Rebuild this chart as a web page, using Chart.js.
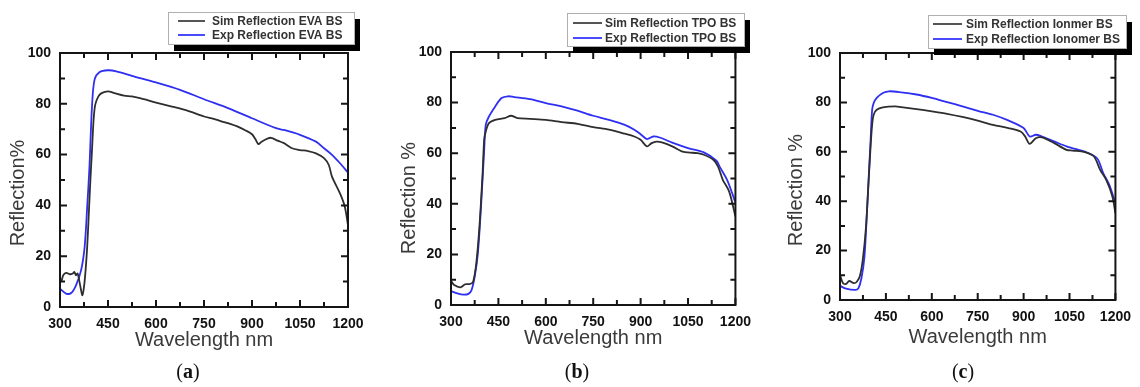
<!DOCTYPE html>
<html>
<head>
<meta charset="utf-8">
<script src="https://cdn.jsdelivr.net/npm/chart.js@4.4.0/dist/chart.umd.min.js"></script>
<style>
  body { margin: 0; background: #fff; width: 1140px; height: 387px; position: relative; overflow: hidden; }
  .panel { position: absolute; top: 0; width: 380px; height: 387px; }
  .tag { position: absolute; top: 360px; font-family: 'Liberation Serif', serif; font-size: 20px; color: #111; transform: translateX(-50%); }
  .tag b { font-weight: bold; }
</style>
</head>
<body>
<div class="panel" style="left:0"><canvas id="chartA"></canvas></div>
<div class="panel" style="left:380px"><canvas id="chartB"></canvas></div>
<div class="panel" style="left:760px"><canvas id="chartC"></canvas></div>
<div class="tag" style="left:188px">(<b>a</b>)</div>
<div class="tag" style="left:577px">(<b>b</b>)</div>
<div class="tag" style="left:963px">(<b>c</b>)</div>
<script>
// Axis ticks
const xTicks = [300, 450, 600, 750, 900, 1050, 1200];
const yTicks = [0, 20, 40, 60, 80, 100];

// (a) EVA backsheet
const evaSimNm = [300, 305, 310, 320, 330, 340, 345, 350, 355, 360, 365, 370, 375, 380, 385, 390, 395, 400, 405, 410, 420, 430, 450, 470, 500, 525, 550, 600, 650, 700, 750, 780, 800, 850, 880, 900, 910, 920, 930, 950, 960, 980, 1000, 1025, 1050, 1075, 1100, 1125, 1140, 1150, 1175, 1190, 1200];
const evaSim = [11.2, 10.5, 12.5, 13.4, 12.9, 13.2, 13.8, 12.5, 13.2, 10.5, 7.2, 4.6, 7.9, 14.5, 23.7, 36.8, 50, 61.8, 73.7, 79.6, 82.9, 84.2, 84.9, 84.2, 83.2, 82.9, 82.2, 80.5, 78.9, 77.2, 75, 74.1, 73.3, 71.3, 69.5, 68, 66.2, 64.1, 65.1, 66.4, 66.6, 65.5, 64.5, 62.5, 61.8, 61.4, 60.5, 58.6, 55.9, 51.3, 44.7, 39.5, 32.2];
const evaExpNm = [300, 319, 335, 350, 366, 377, 385, 392, 400, 408, 424, 450, 476, 525, 600, 675, 750, 825, 900, 975, 1000, 1050, 1100, 1125, 1150, 1175, 1200];
const evaExp = [7.2, 5.3, 5.5, 8.5, 14.5, 23.7, 39.5, 55, 79, 89.5, 92.5, 93.2, 92.8, 91, 88.4, 85.5, 81.8, 78.3, 74.3, 70.4, 69.7, 67.8, 65.1, 62.5, 59.9, 56.6, 52.9];

// (b) TPO backsheet
const tpoSimNm = [300, 310, 330, 345, 360, 370, 380, 390, 400, 405, 410, 420, 440, 470, 490, 510, 550, 600, 650, 700, 750, 800, 850, 880, 900, 920, 935, 950, 970, 1000, 1030, 1050, 1080, 1100, 1130, 1145, 1160, 1180, 1200];
const tpoSim = [9.5, 7.9, 7, 8.2, 8.3, 9.2, 16.5, 31, 52.1, 65.3, 68.6, 71.9, 73.2, 73.9, 74.8, 73.9, 73.6, 73.2, 72.3, 71.6, 70.3, 69.3, 67.7, 66.6, 65.3, 62.7, 64, 64.6, 64.2, 62.7, 60.7, 60.3, 60, 59.4, 57.4, 54.7, 49.5, 44.9, 35];
const tpoExpNm = [300, 320, 340, 355, 365, 375, 385, 395, 405, 410, 420, 440, 460, 480, 500, 550, 600, 650, 700, 750, 800, 850, 880, 900, 920, 940, 960, 1000, 1050, 1100, 1140, 1150, 1175, 1200];
const tpoExp = [5.5, 4.6, 4.1, 4.4, 5.9, 11.2, 20.4, 38.9, 61.3, 71.2, 74.5, 78.5, 81.8, 82.5, 82.2, 81.4, 79.8, 78.5, 76.8, 74.8, 73.2, 71.2, 69.3, 67.5, 65.6, 66.6, 66.2, 64.2, 62, 60.3, 57, 54.7, 49.1, 40.5];

// (c) Ionomer backsheet
const ionSimNm = [300, 310, 320, 330, 345, 355, 365, 375, 385, 395, 400, 405, 410, 420, 440, 480, 500, 550, 600, 650, 700, 750, 800, 850, 890, 905, 920, 940, 960, 1000, 1040, 1060, 1100, 1130, 1150, 1170, 1190, 1200];
const ionSim = [10.1, 6.8, 6.5, 7.7, 6.8, 7.4, 9.7, 16.9, 29.7, 51.4, 62.2, 70.9, 75, 77, 78, 78.4, 78.1, 77.3, 76.4, 75.4, 74.1, 72.6, 70.9, 69.6, 68.2, 66.2, 63.2, 65.5, 65.8, 63.5, 60.8, 60.5, 59.9, 58.1, 52.7, 48.6, 41.9, 35.1];
const ionExpNm = [300, 320, 350, 360, 370, 380, 390, 400, 405, 410, 420, 440, 460, 500, 550, 600, 650, 700, 750, 800, 850, 900, 920, 940, 960, 1000, 1040, 1080, 1100, 1140, 1160, 1180, 1200];
const ionExp = [5.7, 4.6, 4.1, 4.7, 8.8, 17.6, 40.5, 64.9, 77, 79.7, 81.8, 83.8, 84.5, 84.1, 83.2, 81.8, 80.1, 78.4, 76.6, 75, 72.7, 69.6, 66.2, 66.9, 66.2, 64.2, 62.2, 60.8, 60.1, 57.4, 51.4, 46.6, 39.2];

const simColor = '#2e2e2e';
const expColor = '#2f2ff2';
const simLegendColor = '#555555';
const expLegendColor = '#4a4aff';
const fontFamily = '"Liberation Sans", Arial, sans-serif';

const toPoints = (xs, ys) => xs.map((x, i) => ({ x: x, y: ys[i] }));

// Frame + inward major/minor ticks on all four sides
const framePlugin = {
    id: 'frame',
    afterDatasetsDraw(chart) {
        const { ctx, chartArea: a, scales: { x, y } } = chart;
        ctx.save();
        ctx.strokeStyle = '#151515';
        ctx.lineWidth = 2;
        ctx.strokeRect(a.left, a.top, a.right - a.left, a.bottom - a.top);
        ctx.beginPath();
        for (let v = 300; v <= 1200; v += 75) {
            const len = (v - 300) % 150 === 0 ? 7 : 5;
            const px = x.getPixelForValue(v);
            ctx.moveTo(px, a.bottom); ctx.lineTo(px, a.bottom - len);
            ctx.moveTo(px, a.top); ctx.lineTo(px, a.top + len);
        }
        for (let v = 0; v <= 100; v += 10) {
            const len = v % 20 === 0 ? 7 : 5;
            const py = y.getPixelForValue(v);
            ctx.moveTo(a.left, py); ctx.lineTo(a.left + len, py);
            ctx.moveTo(a.right, py); ctx.lineTo(a.right - len, py);
        }
        ctx.stroke();
        ctx.restore();
    }
};

// Rotated y axis title, placed a bit below the plot middle like the original
const yTitlePlugin = {
    id: 'yTitle',
    afterDraw(chart, args, opts) {
        const { ctx } = chart;
        ctx.save();
        ctx.translate(opts.x, opts.y);
        ctx.rotate(-Math.PI / 2);
        ctx.font = '20px ' + fontFamily;
        ctx.fillStyle = '#3a3a3a';
        ctx.textAlign = 'center';
        ctx.textBaseline = 'middle';
        ctx.fillText(opts.text, 0, 0);
        ctx.restore();
    }
};

// Boxed legend with a black drop shadow
const boxLegendPlugin = {
    id: 'boxLegend',
    afterDraw(chart, args, opts) {
        const { ctx } = chart;
        const b = opts.box;
        ctx.save();
        ctx.fillStyle = '#000';
        ctx.fillRect(b.x + 6, b.y + 7, b.w, b.h);
        ctx.fillStyle = '#fff';
        ctx.fillRect(b.x, b.y, b.w, b.h);
        ctx.strokeStyle = '#b0b0b0';
        ctx.lineWidth = 1;
        ctx.strokeRect(b.x + 0.5, b.y + 0.5, b.w, b.h);
        ctx.font = 'bold 12px ' + fontFamily;
        ctx.textBaseline = 'middle';
        chart.data.datasets.forEach((ds, i) => {
            const ly = b.y + opts.rowTop + i * opts.rowGap;
            ctx.strokeStyle = i === 0 ? simLegendColor : expLegendColor;
            ctx.lineWidth = 2;
            ctx.beginPath();
            ctx.moveTo(b.x + opts.lineX, ly);
            ctx.lineTo(b.x + opts.lineX + opts.lineLen, ly);
            ctx.stroke();
            ctx.fillStyle = '#333';
            ctx.fillText(ds.label, b.x + opts.textX, ly + 0.5);
        });
        ctx.restore();
    }
};

function makeChart(id, cfg) {
    return new Chart(document.getElementById(id), {
        type: 'line',
        data: {
            datasets: [
                {
                    label: cfg.simLabel,
                    data: toPoints(cfg.simNm, cfg.sim),
                    borderColor: simColor,
                    borderWidth: 1.8,
                    pointRadius: 0,
                    tension: 0.3
                },
                {
                    label: cfg.expLabel,
                    data: toPoints(cfg.expNm, cfg.exp),
                    borderColor: expColor,
                    borderWidth: 1.8,
                    pointRadius: 0,
                    tension: 0.3
                }
            ]
        },
        options: {
            responsive: true,
            maintainAspectRatio: false,
            animation: false,
            layout: { padding: cfg.padding },
            plugins: {
                legend: { display: false },
                tooltip: { enabled: false },
                boxLegend: cfg.legend,
                yTitle: cfg.yTitle
            },
            scales: {
                x: {
                    type: 'linear',
                    min: 300,
                    max: 1200,
                    afterBuildTicks: (scale) => { scale.ticks = xTicks.map(v => ({ value: v })); },
                    afterFit: (scale) => { scale.height = cfg.xHeight; },
                    grid: { display: false, drawTicks: false },
                    border: { display: false },
                    ticks: {
                        padding: 9,
                        color: '#111',
                        maxRotation: 0,
                        callback: (v) => String(v),
                        font: { family: fontFamily, size: 14, weight: 'bold' }
                    },
                    title: {
                        display: true,
                        text: 'Wavelength nm',
                        color: '#3a3a3a',
                        padding: 0,
                        font: { family: fontFamily, size: 20 }
                    }
                },
                y: {
                    min: 0,
                    max: 100,
                    afterBuildTicks: (scale) => { scale.ticks = yTicks.map(v => ({ value: v })); },
                    afterFit: (scale) => { scale.width = cfg.yWidth; },
                    grid: { display: false, drawTicks: false },
                    border: { display: false },
                    ticks: {
                        padding: 9,
                        color: '#111',
                        callback: (v) => String(v),
                        font: { family: fontFamily, size: 14, weight: 'bold' }
                    }
                }
            }
        },
        plugins: [framePlugin, boxLegendPlugin, yTitlePlugin]
    });
}

makeChart('chartA', {
    simLabel: 'Sim Reflection EVA BS', expLabel: 'Exp Reflection EVA BS',
    simNm: evaSimNm, sim: evaSim, expNm: evaExpNm, exp: evaExp,
    yTitle: { text: 'Reflection%', x: 18, y: 193 },
    padding: { left: 6, right: 32, top: 53, bottom: 35 },
    xHeight: 45, yWidth: 54,
    legend: { box: { x: 168, y: 12, w: 186, h: 32 }, lineX: 10, lineLen: 27, textX: 44, rowTop: 9, rowGap: 14 }
});

makeChart('chartB', {
    simLabel: 'Sim Reflection TPO BS', expLabel: 'Exp Reflection TPO BS',
    simNm: tpoSimNm, sim: tpoSim, expNm: tpoExpNm, exp: tpoExp,
    yTitle: { text: 'Reflection %', x: 29, y: 198 },
    padding: { left: 17, right: 21, top: 52, bottom: 37 },
    xHeight: 45, yWidth: 54,
    legend: { box: { x: 187, y: 13, w: 177, h: 33 }, lineX: 6, lineLen: 29, textX: 38, rowTop: 10, rowGap: 15 }
});

makeChart('chartC', {
    simLabel: 'Sim Reflection Ionmer BS', expLabel: 'Exp Reflection Ionomer BS',
    simNm: ionSimNm, sim: ionSim, expNm: ionExpNm, exp: ionExp,
    yTitle: { text: 'Reflection %', x: 36, y: 190 },
    padding: { left: 25, right: 17, top: 53, bottom: 38 },
    xHeight: 49, yWidth: 55,
    legend: { box: { x: 168, y: 15, w: 198, h: 33 }, lineX: 5, lineLen: 29, textX: 38, rowTop: 9, rowGap: 15 }
});
</script>
</body>
</html>
